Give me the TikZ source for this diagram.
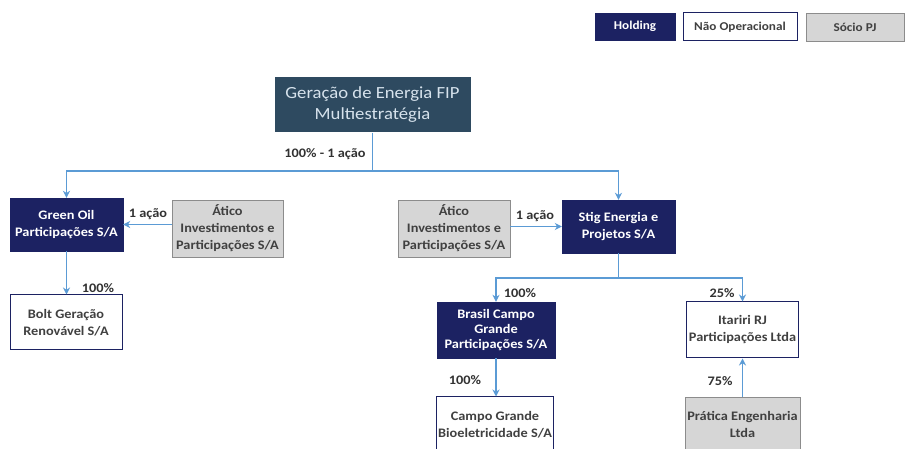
\documentclass[tikz,border=0pt]{standalone}
\usepackage{fontspec}
\setmainfont{Carlito}[FakeStretch=1.1]
\usetikzlibrary{arrows.meta}
\definecolor{navy}{RGB}{28,34,98}
\definecolor{slate}{RGB}{46,74,96}
\definecolor{fiptext}{RGB}{214,226,236}
\definecolor{greyfill}{RGB}{214,214,214}
\definecolor{greyline}{RGB}{140,140,140}
\definecolor{txt}{RGB}{64,64,64}
\definecolor{labtxt}{RGB}{50,50,50}
\definecolor{link}{RGB}{91,155,213}
\tikzset{
  base/.style={rectangle, inner sep=2pt, align=center, font=\fontsize{13}{17}\selectfont\bfseries},
  holding/.style={base, fill=navy, draw=navy, text=white},
  naoop/.style={base, fill=white, draw=navy, line width=1pt, text=txt},
  socio/.style={base, fill=greyfill, draw=greyline, line width=0.8pt, text=txt},
  legend/.style={font=\fontsize{12}{14}\selectfont\bfseries},
  fipbox/.style={rectangle, fill=slate, text=fiptext, align=center, font=\fontsize{17}{21}\selectfont},
  conn/.style={draw=link, line width=1.2pt},
  arr/.style={conn, -{Stealth[length=7pt,width=7pt]}},
  lab/.style={font=\fontsize{13}{15}\selectfont\bfseries, text=labtxt, inner sep=1pt},
}
\begin{document}
\begin{tikzpicture}[x=1pt, y=-1pt]
\clip (0,0) rectangle (906,449);
\fill[white] (0,0) rectangle (906,449);
% legend
\node[holding, legend, minimum width=80pt, minimum height=27pt] (lh) at (635,26.5) {Holding};
\node[naoop, legend, minimum width=114pt, minimum height=28pt] (ln) at (740,27) {Não Operacional};
\node[socio, legend, minimum width=98pt, minimum height=28pt] (ls) at (855,27) {Sócio PJ};
% boxes
\node[fipbox, minimum width=196pt, minimum height=55pt] (fip) at (372.5,105) {Geração de Energia FIP\\Multiestratégia};
\node[holding, minimum width=113pt, minimum height=53pt] (green) at (66.5,224.5) {Green Oil\\Participações S/A};
\node[socio, minimum width=111pt, minimum height=57pt] (aticoL) at (227.5,228.5) {Ático\\Investimentos e\\Participações S/A};
\node[socio, minimum width=112pt, minimum height=57pt] (aticoR) at (454,228.5) {Ático\\Investimentos e\\Participações S/A};
\node[holding, minimum width=113pt, minimum height=53pt] (stig) at (618.5,226.5) {Stig Energia e\\Projetos S/A};
\node[naoop, minimum width=112pt, minimum height=55pt] (bolt) at (66,322.5) {Bolt Geração\\Renovável S/A};
\node[holding, minimum width=118pt, minimum height=56pt, font=\fontsize{13}{15}\selectfont\bfseries] (brasil) at (496,330) {Brasil Campo\\Grande\\Participações S/A};
\node[naoop, minimum width=112pt, minimum height=56pt] (itariri) at (742.5,330) {Itariri RJ\\Participações Ltda};
\node[naoop, minimum width=116pt, minimum height=55pt] (campo) at (495,424.5) {Campo Grande\\Bioeletricidade S/A};
\node[socio, minimum width=115pt, minimum height=55pt] (pratica) at (742.5,424.5) {Prática Engenharia\\Ltda};
% junctions
\coordinate (j1) at (372.5,171);
\coordinate (j2) at (618.5,278);
% connectors
\draw[conn] (fip.south) -- (j1);
\draw[arr] (j1) -| (green.north);
\draw[arr] (j1) -| (stig.north);
\draw[arr] (aticoL.west |- green.east) -- (green.east);
\draw[arr] (aticoR.east |- stig.west) -- (stig.west);
\draw[arr] (green.south) -- (green.south |- bolt.north);
\draw[conn] (stig.south) -- (j2);
\draw[arr] (j2) -| (brasil.north);
\draw[arr] (j2) -| (itariri.north);
\draw[arr] (brasil.south) -- (brasil.south |- campo.north);
\draw[arr] (pratica.north) -- (pratica.north |- itariri.south);
% labels
\node[lab] (l1) at (325,154) {100\% - 1 ação};
\node[lab] (l2) at (148,214) {1 ação};
\node[lab] (l3) at (535,216) {1 ação};
\node[lab] (l4) at (98,288) {100\%};
\node[lab] (l5) at (520,293) {100\%};
\node[lab] (l6) at (722,293) {25\%};
\node[lab] (l7) at (465,380) {100\%};
\node[lab] (l8) at (720,381) {75\%};
\end{tikzpicture}
\end{document}
